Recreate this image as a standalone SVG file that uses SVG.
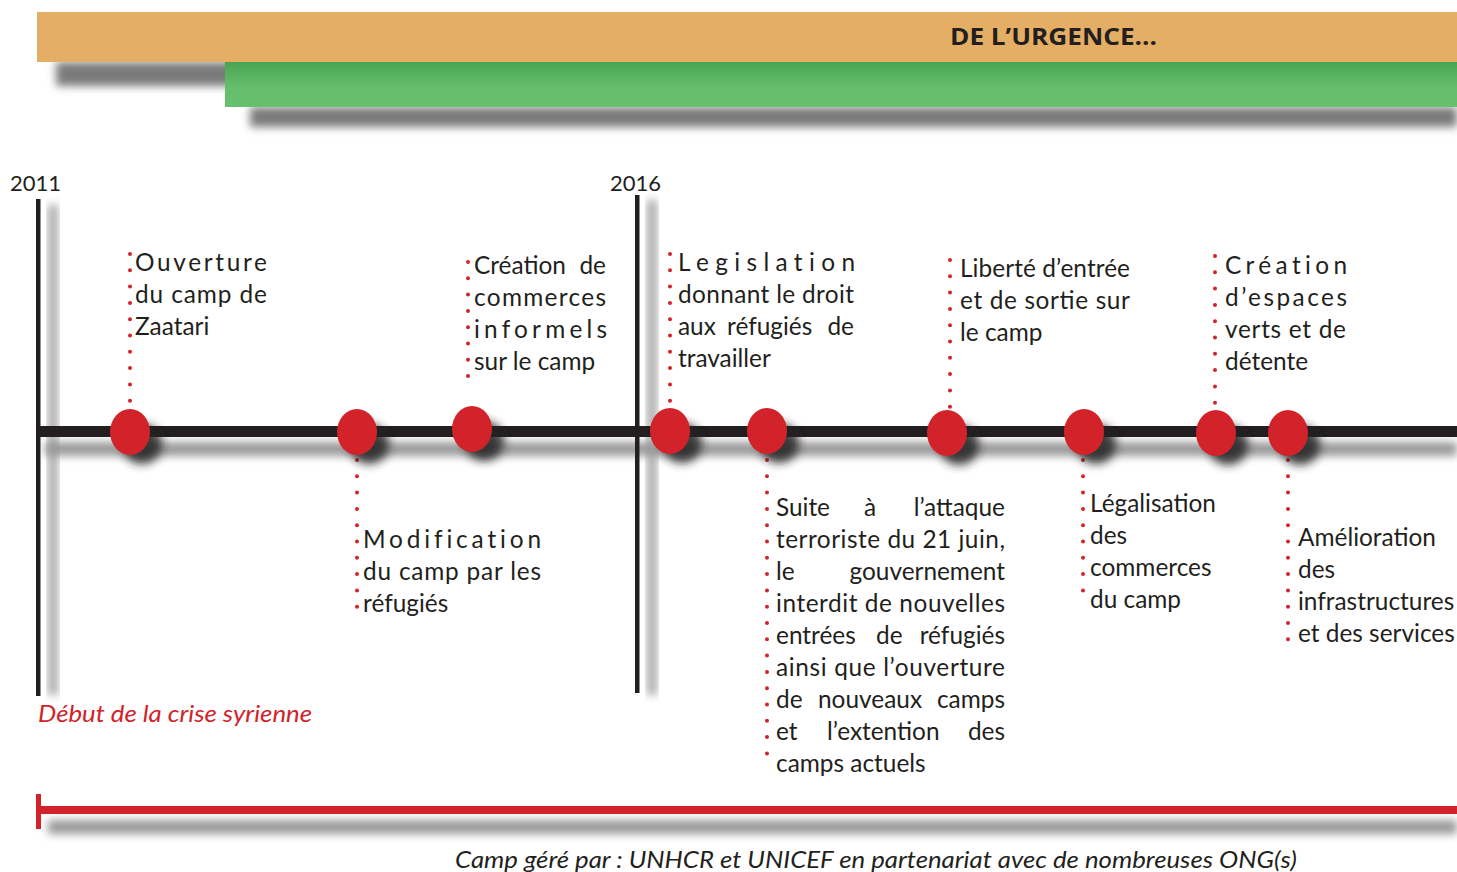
<svg xmlns="http://www.w3.org/2000/svg" width="1457" height="872" viewBox="0 0 1457 872">
<defs>
<filter id="blur" x="-20%" y="-80%" width="140%" height="260%"><feGaussianBlur stdDeviation="4"/></filter>
<filter id="blur2" x="-50%" y="-50%" width="200%" height="200%"><feGaussianBlur stdDeviation="5"/></filter>
<linearGradient id="green" x1="0" y1="0" x2="0" y2="1">
<stop offset="0" stop-color="#49A452"/><stop offset="0.55" stop-color="#64BE6C"/><stop offset="1" stop-color="#66C06E"/>
</linearGradient>
</defs>
<style>
.t{font-family:Lato,"Liberation Sans",sans-serif;font-size:24.4px;fill:#231F20}
.ls{font-variant-ligatures:none}
.e{text-anchor:end}
.it{font-family:Lato,"Liberation Sans",sans-serif;font-size:23.5px;font-style:italic}
.yr{font-family:Lato,"Liberation Sans",sans-serif;font-size:22px;fill:#231F20}
.dot{stroke:#D2232A;stroke-width:4;stroke-linecap:round;stroke-dasharray:0 16.3;fill:none}
.c{fill:#D2232A}
.cs{fill:#222;filter:url(#blur2);opacity:0.85}
.sh{fill:#7a7a7a;filter:url(#blur)}
</style>
<rect width="1457" height="872" fill="#fff"/>

<g id="banner">
<rect class="sh" x="56" y="62" width="180" height="24"/>
<rect class="sh" x="250" y="107" width="1207" height="20"/>
<rect x="37" y="12" width="1420" height="50" fill="#E4AF65"/>
<rect x="225" y="62" width="1232" height="45" fill="url(#green)"/>
<text x="950" y="45" style="font-family:'Open Sans','Liberation Sans',sans-serif;font-weight:bold;font-size:24px;fill:#231F20" textLength="207" lengthAdjust="spacingAndGlyphs">DE L’URGENCE...</text>
</g>

<g id="axes">
<rect x="48" y="205" width="10" height="490" fill="#aaa" filter="url(#blur)"/>
<rect x="647" y="200" width="10" height="495" fill="#aaa" filter="url(#blur)"/>
<rect x="45" y="442" width="1412" height="14" fill="#999" filter="url(#blur)"/>
<rect x="36" y="199" width="4.5" height="497" fill="#231F20"/>
<rect x="635" y="195" width="4.5" height="498" fill="#231F20"/>
<rect x="37" y="426" width="1420" height="11" fill="#231F20"/>
<text class="yr" x="10" y="191">2011</text>
<text class="yr" x="610" y="191">2016</text>
<text class="it" x="38" y="722" fill="#D2232A" textLength="274" lengthAdjust="spacingAndGlyphs">Début de la crise syrienne</text>
</g>

<g id="camp-bar">
<rect x="48" y="820" width="1409" height="14" fill="#999" filter="url(#blur)"/>
<rect x="37" y="806" width="1420" height="8" fill="#D2232A"/>
<rect x="36" y="794" width="5" height="35" fill="#D2232A"/>
<text class="it" x="455" y="868" fill="#231F20" textLength="842" lengthAdjust="spacingAndGlyphs">Camp géré par : UNHCR et UNICEF en partenariat avec de nombreuses ONG(s)</text>
</g>

<g id="connectors">
<line class="dot" x1="130" y1="254" x2="130" y2="402"/>
<line class="dot" x1="468" y1="262" x2="468" y2="392"/>
<line class="dot" x1="670" y1="254" x2="670" y2="402"/>
<line class="dot" x1="950" y1="260" x2="950" y2="408"/>
<line class="dot" x1="1215" y1="256" x2="1215" y2="405"/>
<line class="dot" x1="357" y1="460" x2="357" y2="607"/>
<line class="dot" x1="767" y1="460" x2="767" y2="767"/>
<line class="dot" x1="1083" y1="460" x2="1083" y2="606"/>
<line class="dot" x1="1288" y1="460" x2="1288" y2="640"/>
</g>

<g id="e1">
<ellipse class="cs" cx="142" cy="444" rx="20" ry="20"/>
<ellipse class="c" cx="130" cy="432" rx="20" ry="23"/>
<text class="t ls" x="135" y="271" textLength="132" lengthAdjust="spacing">Ouverture</text>
<text class="t" x="135" y="303" textLength="132" lengthAdjust="spacing">du camp de</text>
<text class="t" x="135" y="335">Zaatari</text>
</g>

<g id="e2">
<ellipse class="cs" cx="369" cy="444" rx="20" ry="20"/>
<ellipse class="c" cx="357" cy="432" rx="20" ry="23"/>
<text class="t ls" x="363" y="548" textLength="178" lengthAdjust="spacing">Modification</text>
<text class="t" x="363" y="580" textLength="178" lengthAdjust="spacing">du camp par les</text>
<text class="t" x="363" y="612">réfugiés</text>
</g>

<g id="e3">
<ellipse class="cs" cx="484" cy="441" rx="20" ry="20"/>
<ellipse class="c" cx="472" cy="429" rx="20" ry="23"/>
<text class="t" y="274"><tspan x="474">Création</tspan> <tspan class="e" x="606">de</tspan></text>
<text class="t" x="474" y="306" textLength="132" lengthAdjust="spacing">commerces</text>
<text class="t ls" x="474" y="338" textLength="133" lengthAdjust="spacing">informels</text>
<text class="t" x="474" y="370">sur le camp</text>
</g>

<g id="e4">
<ellipse class="cs" cx="682" cy="443" rx="20" ry="20"/>
<ellipse class="c" cx="670" cy="431" rx="20" ry="23"/>
<text class="t ls" x="678" y="271" textLength="177" lengthAdjust="spacing">Legislation</text>
<text class="t" x="678" y="303" textLength="176" lengthAdjust="spacing">donnant le droit</text>
<text class="t" y="335"><tspan x="678">aux</tspan> <tspan x="727">réfugiés</tspan> <tspan class="e" x="854">de</tspan></text>
<text class="t" x="678" y="367">travailler</text>
</g>

<g id="e5">
<ellipse class="cs" cx="779" cy="443" rx="20" ry="20"/>
<ellipse class="c" cx="767" cy="431" rx="20" ry="23"/>
<text class="t" y="516"><tspan x="776">Suite</tspan> <tspan x="864">à</tspan> <tspan class="e" x="1005">l’attaque</tspan></text>
<text class="t" x="776" y="548" textLength="229" lengthAdjust="spacing">terroriste du 21 juin,</text>
<text class="t" y="580"><tspan x="776">le</tspan> <tspan class="e" x="1005">gouvernement</tspan></text>
<text class="t" x="776" y="612" textLength="229" lengthAdjust="spacing">interdit de nouvelles</text>
<text class="t" y="644"><tspan x="776">entrées</tspan> <tspan x="876">de</tspan> <tspan class="e" x="1005">réfugiés</tspan></text>
<text class="t" x="776" y="676" textLength="229" lengthAdjust="spacing">ainsi que l’ouverture</text>
<text class="t" y="708"><tspan x="776">de</tspan> <tspan x="818">nouveaux</tspan> <tspan class="e" x="1005">camps</tspan></text>
<text class="t" y="740"><tspan x="776">et</tspan> <tspan x="827">l’extention</tspan> <tspan class="e" x="1005">des</tspan></text>
<text class="t" x="776" y="772">camps actuels</text>
</g>

<g id="e6">
<ellipse class="cs" cx="959" cy="445" rx="20" ry="20"/>
<ellipse class="c" cx="947" cy="433" rx="20" ry="23"/>
<text class="t" x="960" y="277" textLength="170" lengthAdjust="spacing">Liberté d’entrée</text>
<text class="t" x="960" y="309" textLength="170" lengthAdjust="spacing">et de sortie sur</text>
<text class="t" x="960" y="341">le camp</text>
</g>

<g id="e7">
<ellipse class="cs" cx="1096" cy="444" rx="20" ry="20"/>
<ellipse class="c" cx="1084" cy="432" rx="20" ry="23"/>
<text class="t" x="1090" y="512">Légalisation</text>
<text class="t" x="1090" y="544">des</text>
<text class="t" x="1090" y="576">commerces</text>
<text class="t" x="1090" y="608">du camp</text>
</g>

<g id="e8">
<ellipse class="cs" cx="1228" cy="445" rx="20" ry="20"/>
<ellipse class="c" cx="1216" cy="433" rx="20" ry="23"/>
<text class="t ls" x="1225" y="274" textLength="122" lengthAdjust="spacing">Création</text>
<text class="t" x="1225" y="306" textLength="122" lengthAdjust="spacing">d’espaces</text>
<text class="t" x="1225" y="338" textLength="121" lengthAdjust="spacing">verts et de</text>
<text class="t" x="1225" y="370">détente</text>
</g>

<g id="e9">
<ellipse class="cs" cx="1300" cy="445" rx="20" ry="20"/>
<ellipse class="c" cx="1288" cy="433" rx="20" ry="23"/>
<text class="t" x="1298" y="546">Amélioration</text>
<text class="t" x="1298" y="578">des</text>
<text class="t" x="1298" y="610">infrastructures</text>
<text class="t" x="1298" y="642">et des services</text>
</g>
</svg>
